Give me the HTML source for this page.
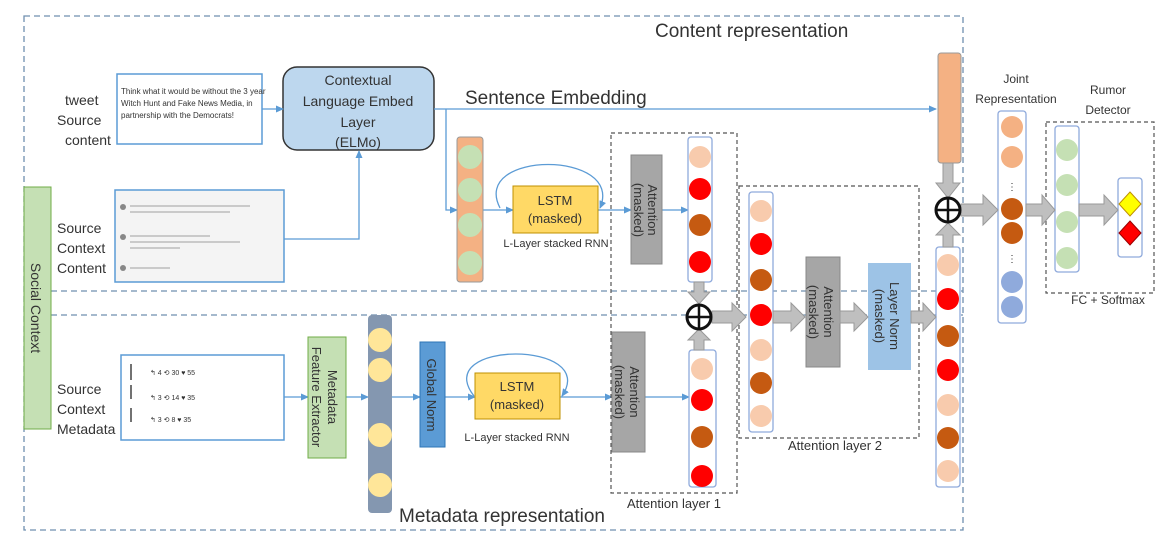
<!DOCTYPE html>
<html><head><meta charset="utf-8"><style>body{margin:0;background:#fff}svg{display:block}text{font-family:"Liberation Sans",sans-serif;fill:#333}</style></head><body>
<svg width="1166" height="540" viewBox="0 0 1166 540" xmlns="http://www.w3.org/2000/svg">
<defs>
<marker id="a" markerWidth="8" markerHeight="8" refX="7" refY="4" orient="auto" markerUnits="userSpaceOnUse"><path d="M0,0.5 L8,4 L0,7.5z" fill="#5b9bd5"/></marker>
</defs>
<g fill="none" stroke="#6f8faf" stroke-width="1.3" stroke-dasharray="6,4">
<path d="M24,16 H963 V530 H24 Z"/>
<path d="M51,291 H963"/><path d="M51,315 H963"/>
</g>
<rect x="24" y="187" width="27" height="242" fill="#c5e0b4" stroke="#70ad47"/>
<text transform="translate(31,308) rotate(90)" font-size="14" text-anchor="middle">Social   Context</text>
<text x="655" y="37" font-size="19">Content representation</text>
<text x="465" y="104" font-size="19">Sentence Embedding</text>
<text x="399" y="522" font-size="19">Metadata representation</text>
<g font-size="14"><text x="65" y="105">tweet</text><text x="57" y="125">Source</text><text x="65" y="145">content</text>
<text x="57" y="233">Source</text><text x="57" y="253">Context</text><text x="57" y="273">Content</text>
<text x="57" y="394">Source</text><text x="57" y="414">Context</text><text x="57" y="434">Metadata</text></g>
<rect x="117" y="74" width="145" height="70" fill="#fff" stroke="#5b9bd5" stroke-width="1.5"/>
<text x="121" y="94" font-size="8" fill="#999">Think what it would be without the 3 year</text>
<text x="121" y="106" font-size="8" fill="#999">Witch Hunt and Fake News Media, in</text>
<text x="121" y="118" font-size="8" fill="#999">partnership with the Democrats!</text>
<rect x="115" y="190" width="169" height="92" fill="#f4f4f4" stroke="#5b9bd5" stroke-width="1.5"/>
<g fill="#888"><circle cx="123" cy="207" r="3"/><circle cx="123" cy="237" r="3"/><circle cx="123" cy="268" r="3"/></g>
<g stroke="#bbb" stroke-width="1.5"><path d="M130,206h120M130,212h100M130,236h80M130,242h110M130,248h50M130,268h40"/></g>
<rect x="121" y="355" width="163" height="85" fill="#fff" stroke="#5b9bd5" stroke-width="1.5"/>
<g stroke="#444" stroke-width="1.5"><path d="M131,364v16M131,385v14M131,408v14"/></g>
<g font-size="7" fill="#aaa"><text x="150" y="375">↰ 4      ⟲ 30      ♥ 55</text><text x="150" y="400">↰ 3      ⟲ 14      ♥ 35</text><text x="150" y="422">↰ 3      ⟲ 8       ♥ 35</text></g>
<rect x="283" y="67" width="151" height="83" rx="14" fill="#bdd7ee" stroke="#333" stroke-width="1.5"/>
<g font-size="14" text-anchor="middle"><text x="358" y="85">Contextual</text><text x="358" y="106">Language Embed</text><text x="358" y="127">Layer</text><text x="358" y="147">(ELMo)</text></g>
<g fill="none" stroke="#5b9bd5" stroke-width="1.3">
<path d="M262,109H283" marker-end="url(#a)"/>
<path d="M434,109H936" marker-end="url(#a)"/>
<path d="M446,109V210H457" marker-end="url(#a)"/>
<path d="M284,239H359V151" marker-end="url(#a)"/>
<path d="M483,210H513" marker-end="url(#a)"/>
<path d="M598,210H631" marker-end="url(#a)"/>
<path d="M662,210H688" marker-end="url(#a)"/>
<path d="M500,208 C470,150 625,150 600,208" marker-end="url(#a)"/>
<path d="M284,397H308" marker-end="url(#a)"/>
<path d="M346,397H368" marker-end="url(#a)"/>
<path d="M392,397H420" marker-end="url(#a)"/>
<path d="M445,397H475" marker-end="url(#a)"/>
<path d="M560,397H612" marker-end="url(#a)"/>
<path d="M645,397H689" marker-end="url(#a)"/>
<path d="M474,396 C430,340 600,340 562,396" marker-end="url(#a)"/>
</g>
<rect x="457" y="137" width="26" height="145" rx="3" fill="#f4b183" stroke="#999"/>
<g fill="#c5e0b4"><circle cx="470" cy="157" r="12"/><circle cx="470" cy="190" r="12"/><circle cx="470" cy="225" r="12"/><circle cx="470" cy="263" r="12"/></g>
<rect x="513" y="186" width="85" height="47" fill="#ffd966" stroke="#bf9000"/>
<text x="555" y="205" font-size="13" text-anchor="middle">LSTM</text><text x="555" y="223" font-size="13" text-anchor="middle">(masked)</text>
<text x="556" y="247" font-size="11" text-anchor="middle">L-Layer stacked RNN</text>
<rect x="308" y="337" width="38" height="121" fill="#c5e0b4" stroke="#70ad47"/>
<text transform="translate(328,397) rotate(90)" font-size="13" text-anchor="middle">Metadata</text>
<text transform="translate(312,397) rotate(90)" font-size="13" text-anchor="middle">Feature Extractor</text>
<rect x="368" y="315" width="24" height="198" rx="4" fill="#8497b0"/>
<g fill="#ffe699"><circle cx="380" cy="340" r="12"/><circle cx="380" cy="370" r="12"/><circle cx="380" cy="435" r="12"/><circle cx="380" cy="485" r="12"/></g>
<rect x="420" y="342" width="25" height="105" fill="#5b9bd5" stroke="#2e75b6"/>
<text transform="translate(427,395) rotate(90)" font-size="13" text-anchor="middle">Global Norm</text>
<rect x="475" y="373" width="85" height="46" fill="#ffd966" stroke="#bf9000"/>
<text x="517" y="391" font-size="13" text-anchor="middle">LSTM</text><text x="517" y="409" font-size="13" text-anchor="middle">(masked)</text>
<text x="517" y="441" font-size="11" text-anchor="middle">L-Layer stacked RNN</text>
<g fill="none" stroke="#555" stroke-width="1.2" stroke-dasharray="4,3">
<rect x="611" y="133" width="126" height="360"/><rect x="739" y="186" width="180" height="252"/><rect x="1046" y="122" width="108" height="171"/></g>
<text x="674" y="508" font-size="13" text-anchor="middle">Attention layer 1</text>
<text x="835" y="450" font-size="13" text-anchor="middle">Attention layer 2</text>
<text x="1108" y="304" font-size="12" text-anchor="middle">FC + Softmax</text>
<g font-size="12" text-anchor="middle"><text x="1016" y="83">Joint</text><text x="1016" y="103">Representation</text><text x="1108" y="94">Rumor</text><text x="1108" y="114">Detector</text></g>
<g fill="#a6a6a6" stroke="#888"><rect x="631" y="155" width="31" height="109"/><rect x="612" y="332" width="33" height="120"/><rect x="806" y="257" width="34" height="110"/></g>
<g font-size="13" text-anchor="middle">
<text transform="translate(648,210) rotate(90)">Attention</text><text transform="translate(634,210) rotate(90)">(masked)</text>
<text transform="translate(630,392) rotate(90)">Attention</text><text transform="translate(615,392) rotate(90)">(masked)</text>
<text transform="translate(824,312) rotate(90)">Attention</text><text transform="translate(809,312) rotate(90)">(masked)</text></g>
<rect x="868" y="263" width="43" height="107" fill="#9dc3e6"/>
<text transform="translate(890,316) rotate(90)" font-size="13" text-anchor="middle">Layer Norm</text>
<text transform="translate(875,316) rotate(90)" font-size="13" text-anchor="middle">(masked)</text>
<g fill="#fff" stroke="#8faadc" stroke-width="1.3">
<rect x="688" y="137" width="24" height="145" rx="3"/><rect x="689" y="350" width="27" height="137" rx="3"/>
<rect x="749" y="192" width="24" height="240" rx="3"/><rect x="936" y="247" width="24" height="240" rx="3"/>
<rect x="998" y="111" width="28" height="212" rx="3"/><rect x="1055" y="126" width="24" height="146" rx="3"/><rect x="1118" y="178" width="24" height="79" rx="3"/></g>
<rect x="938" y="53" width="23" height="110" rx="3" fill="#f4b183" stroke="#999"/>
<g>
<circle cx="700" cy="157" r="11" fill="#f8cbad"/><circle cx="700" cy="189" r="11" fill="#f00"/><circle cx="700" cy="225" r="11" fill="#c55a11"/><circle cx="700" cy="262" r="11" fill="#f00"/>
<circle cx="702" cy="369" r="11" fill="#f8cbad"/><circle cx="702" cy="400" r="11" fill="#f00"/><circle cx="702" cy="437" r="11" fill="#c55a11"/><circle cx="702" cy="476" r="11" fill="#f00"/>
<circle cx="761" cy="211" r="11" fill="#f8cbad"/><circle cx="761" cy="244" r="11" fill="#f00"/><circle cx="761" cy="280" r="11" fill="#c55a11"/><circle cx="761" cy="315" r="11" fill="#f00"/><circle cx="761" cy="350" r="11" fill="#f8cbad"/><circle cx="761" cy="383" r="11" fill="#c55a11"/><circle cx="761" cy="416" r="11" fill="#f8cbad"/>
<circle cx="948" cy="265" r="11" fill="#f8cbad"/><circle cx="948" cy="299" r="11" fill="#f00"/><circle cx="948" cy="336" r="11" fill="#c55a11"/><circle cx="948" cy="370" r="11" fill="#f00"/><circle cx="948" cy="405" r="11" fill="#f8cbad"/><circle cx="948" cy="438" r="11" fill="#c55a11"/><circle cx="948" cy="471" r="11" fill="#f8cbad"/>
<circle cx="1012" cy="127" r="11" fill="#f4b183"/><circle cx="1012" cy="157" r="11" fill="#f4b183"/><circle cx="1012" cy="209" r="11" fill="#c55a11"/><circle cx="1012" cy="233" r="11" fill="#c55a11"/><circle cx="1012" cy="282" r="11" fill="#8faadc"/><circle cx="1012" cy="307" r="11" fill="#8faadc"/>
<circle cx="1067" cy="150" r="11" fill="#c5e0b4"/><circle cx="1067" cy="185" r="11" fill="#c5e0b4"/><circle cx="1067" cy="222" r="11" fill="#c5e0b4"/><circle cx="1067" cy="258" r="11" fill="#c5e0b4"/>
</g>
<text x="1012" y="190" font-size="10" text-anchor="middle">⋮</text><text x="1012" y="262" font-size="10" text-anchor="middle">⋮</text>
<path d="M1130,192 L1141,204 L1130,216 L1119,204Z" fill="#ff0" stroke="#bf9000"/>
<path d="M1130,221 L1141,233 L1130,245 L1119,233Z" fill="#f00" stroke="#900"/>
<g fill="#bfbfbf" stroke="#999">
<path d="M712,311h20v-8l14,14l-14,14v-8h-20z"/>
<path d="M773,311h18v-8l14,14l-14,14v-8h-18z"/>
<path d="M840,311h14v-8l14,14l-14,14v-8h-14z"/>
<path d="M911,311h12v-8l13,14l-13,14v-8h-12z"/>
<path d="M694,282h10v10h6l-11,12l-11,-12h6z"/>
<path d="M694,350h10v-10h6l-11,-11l-11,11h6z"/>
<path d="M943,163h10v20h7l-12,15l-12,-15h7z"/>
<path d="M943,247h10v-12h7l-12,-12l-12,12h7z"/>
<path d="M961,204h22v-9l15,15l-15,15v-9h-22z"/>
<path d="M1026,204h16v-9l13,15l-13,15v-9h-16z"/>
<path d="M1079,204h25v-9l14,15l-14,15v-9h-25z"/>
</g>
<g fill="#fff" stroke="#111" stroke-width="3">
<ellipse cx="699" cy="317" rx="12" ry="12"/><ellipse cx="948" cy="210" rx="12" ry="12"/></g>
<g stroke="#111" stroke-width="2.5"><path d="M699,305v24M687,317h24M948,198v24M936,210h24"/></g>
</svg>
</body></html>
